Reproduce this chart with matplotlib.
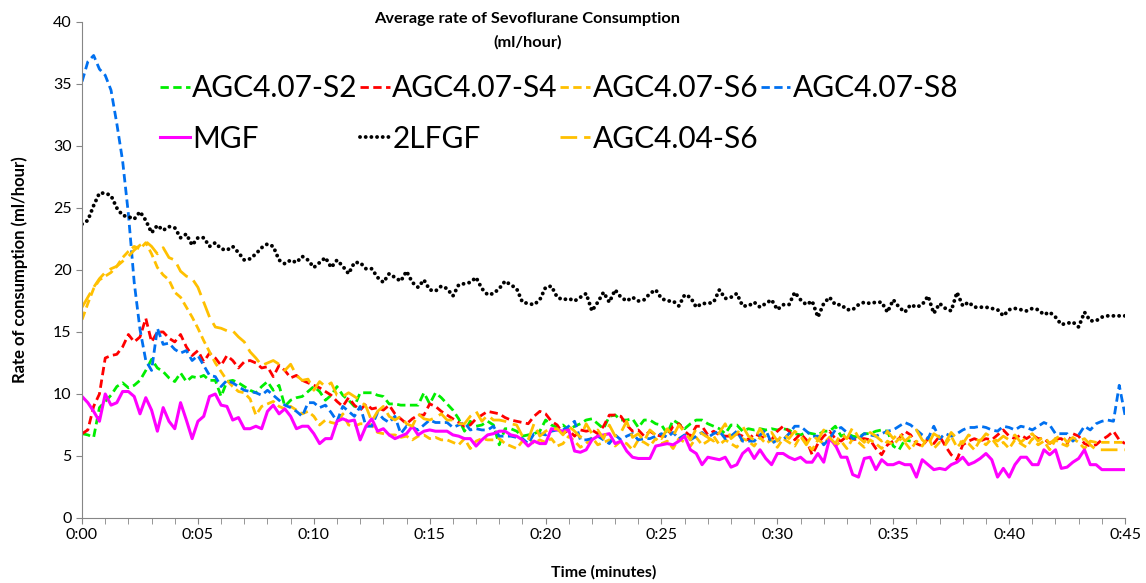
import numpy as np
import matplotlib
matplotlib.use('Agg')
import matplotlib.pyplot as plt

plt.rcParams['font.family'] = ['Lato', 'DejaVu Sans']

# readings every 15 s, 0:00 .. 0:45
minutes = np.arange(181) / 4

s2 = [6.8, 6.7, 6.5, 8.9, 9.4, 9.9, 10.6, 10.9, 10.5, 10.7, 11.1, 11.9, 12.8, 12.1, 11.8, 11.3, 11.0, 11.7, 11.0, 11.4,
      11.3, 11.5, 11.1, 11.1, 9.8, 11.0, 11.1, 10.9, 10.6, 10.3, 10.1, 10.6, 11.0, 10.3, 10.7, 9.0, 9.5, 9.7, 9.8, 10.2,
      10.6, 10.2, 9.5, 9.9, 10.6, 9.9, 9.5, 9.0, 10.1, 10.1, 10.1, 9.9, 9.8, 9.2, 9.2, 9.1, 9.1, 9.1, 9.1, 10.1,
      9.2, 10.1, 9.7, 9.2, 8.7, 8.0, 7.0, 7.8, 7.4, 7.5, 7.8, 7.5, 5.9, 7.2, 7.2, 7.0, 6.6, 6.7, 6.8, 7.0,
      7.9, 7.5, 7.3, 7.5, 7.1, 7.4, 7.6, 7.9, 8.0, 7.6, 7.2, 8.2, 8.3, 7.9, 7.9, 8.0, 7.3, 7.9, 7.9, 7.6,
      7.5, 6.8, 7.9, 7.6, 7.2, 7.6, 7.9, 7.9, 7.6, 7.4, 7.2, 6.8, 7.5, 7.5, 7.0, 7.2, 7.1, 7.2, 7.1, 7.2,
      7.1, 7.2, 7.1, 6.8, 6.7, 6.9, 6.8, 6.7, 7.0, 7.0, 7.4, 6.6, 6.8, 6.6, 6.5, 6.8, 6.8, 7.0, 7.1, 7.0,
      5.8, 5.5, 6.3, 6.2]

s4 = [6.8, 7.1, 9.0, 10.0, 12.9, 13.1, 13.2, 13.8, 14.8, 14.2, 14.6, 16.1, 14.2, 15.0, 15.0, 14.5, 14.2, 14.8, 13.8, 13.1,
      13.5, 12.6, 13.3, 12.9, 12.3, 13.1, 12.7, 12.1, 12.6, 12.7, 12.5, 12.1, 12.2, 11.4, 12.3, 11.9, 11.3, 11.5, 11.1, 10.9,
      10.7, 10.5, 10.2, 9.9, 9.4, 9.0, 9.7, 9.1, 8.7, 9.2, 8.8, 8.9, 8.7, 9.1, 8.4, 8.0, 7.6, 8.0, 8.3, 8.3,
      9.2, 9.0, 8.6, 8.3, 8.0, 7.7, 7.4, 7.5, 8.0, 8.3, 8.6, 8.5, 8.4, 8.1, 7.9, 7.8, 7.7, 7.6, 8.2, 8.6,
      8.4, 7.8, 7.5, 6.8, 7.1, 6.6, 7.1, 7.0, 7.1, 6.8, 7.4, 8.3, 8.3, 8.2, 7.5, 7.0, 7.1, 6.6, 7.0, 6.7,
      6.6, 6.6, 7.4, 7.6, 7.0, 6.6, 7.4, 7.4, 6.7, 7.0, 6.7, 6.6, 6.6, 6.8, 6.6, 6.3, 6.8, 6.6, 6.4, 6.3,
      7.0, 7.4, 7.0, 6.3, 6.8, 6.3, 5.1, 6.0, 6.6, 7.0, 6.4, 6.2, 6.6, 6.3, 6.4, 6.4, 6.3, 5.6, 5.1, 5.9,
      6.2, 6.4, 7.0, 6.7, 6.0, 5.8, 6.4, 6.0, 6.6, 5.8, 5.1, 4.7, 5.9, 6.2, 6.4, 6.2, 6.4, 6.3, 6.7, 7.1,
      6.6, 6.4, 6.7, 6.4, 6.7, 6.4, 6.4, 6.0, 6.4, 6.4, 6.0, 6.8, 6.6, 6.0, 5.8, 5.9, 6.3, 6.6, 7.0, 6.3,
      6.0]

s6 = [16.0, 17.3, 18.5, 19.2, 19.5, 19.8, 20.3, 21.0, 21.5, 21.9, 21.7, 22.2, 21.3, 20.2, 19.6, 19.2, 18.2, 17.8, 17.0, 16.2,
      15.3, 14.3, 13.4, 12.5, 11.8, 11.1, 10.6, 10.2, 10.1, 9.6, 8.3, 9.0, 9.2, 9.4, 9.0, 8.8, 9.0, 8.7, 8.4, 8.6,
      8.2, 7.5, 7.9, 7.7, 7.6, 8.4, 7.5, 7.4, 7.6, 7.6, 7.5, 6.9, 6.8, 6.7, 6.7, 6.5, 6.6, 6.3, 6.6, 6.7,
      6.4, 6.5, 6.3, 6.3, 6.1, 5.9, 6.4, 5.6, 6.2, 6.4, 6.3, 6.3, 6.4, 6.0, 5.8, 5.6, 6.2, 6.5, 6.0, 6.3,
      6.1, 6.4, 5.8, 6.0, 6.6, 6.2, 5.7, 6.0, 6.5, 5.9, 6.1, 6.3, 5.8, 6.2, 6.0, 5.5, 6.3, 6.1, 5.8, 6.4,
      6.0, 6.2, 5.6, 6.4, 6.1, 5.8, 6.5, 5.9, 6.2, 6.6, 5.9, 6.3, 6.0, 5.7, 6.4, 6.2, 5.8, 6.5, 6.0, 6.3,
      5.7, 6.4, 6.1, 5.8, 6.6, 6.0, 5.5, 6.3, 6.0, 6.5, 5.8, 6.2, 5.6, 6.4, 6.1, 5.7, 6.3, 6.0, 5.6, 6.2,
      5.9, 6.4, 6.1, 5.5, 6.2, 5.8, 6.5, 5.6, 6.1, 5.9, 6.6, 5.7, 6.2, 6.0, 5.5, 6.3, 5.9, 6.4, 5.8, 6.1,
      5.6, 6.3, 6.0, 5.7, 6.4, 5.9, 6.2, 5.5, 6.3, 6.0, 5.8, 6.4, 6.1, 5.6, 6.2, 6.1, 6.1, 6.1, 6.1, 6.1,
      6.1]

s8 = [35.2, 36.8, 37.3, 36.2, 35.7, 34.5, 31.8, 28.8, 24.5, 19.0, 15.2, 12.7, 11.9, 15.3, 14.0, 14.1, 13.6, 13.3, 13.5, 12.7,
      13.1, 12.3, 11.5, 11.4, 10.6, 11.1, 10.9, 10.6, 10.3, 10.2, 10.1, 9.9, 10.3, 9.9, 9.5, 9.1, 8.9, 8.6, 8.2, 9.3,
      9.3, 8.9, 9.1, 8.5, 7.8, 9.0, 8.6, 8.2, 9.0, 7.4, 7.4, 8.5, 8.0, 7.7, 8.2, 6.8, 7.4, 7.3, 7.1, 7.5,
      7.9, 7.7, 7.7, 7.7, 7.3, 7.5, 7.7, 7.1, 7.2, 7.1, 7.1, 7.4, 6.6, 6.6, 6.6, 6.5, 6.4, 6.0, 6.8, 6.8,
      6.7, 7.0, 7.1, 7.1, 7.4, 7.8, 6.3, 6.3, 6.4, 6.6, 6.3, 6.0, 6.7, 6.3, 6.6, 6.8, 6.3, 6.4, 6.4, 6.6,
      6.8, 6.5, 6.9, 6.4, 6.7, 6.3, 6.6, 6.9, 6.5, 6.8, 7.0, 6.4, 6.6, 7.0, 6.2, 6.2, 6.2, 6.7, 7.1, 6.0,
      6.3, 6.3, 6.8, 7.4, 7.4, 7.0, 6.6, 6.6, 5.9, 6.4, 7.1, 7.3, 6.9, 6.4, 6.4, 6.8, 6.7, 6.6, 6.8, 7.0,
      7.1, 7.4, 7.7, 7.5, 7.1, 6.7, 6.4, 7.4, 6.4, 6.8, 6.6, 6.8, 7.1, 7.3, 7.3, 7.4, 7.3, 7.1, 7.0, 7.4,
      7.3, 7.1, 7.4, 7.3, 7.1, 7.4, 7.7, 7.5, 6.8, 6.8, 6.8, 6.2, 6.7, 7.4, 7.1, 7.6, 7.8, 7.9, 7.8, 10.7,
      8.3]

mgf = [9.8, 9.3, 8.6, 7.8, 10.0, 9.1, 9.3, 10.2, 10.2, 9.8, 8.4, 9.7, 8.7, 7.0, 8.9, 7.8, 7.2, 9.3, 7.9, 6.4,
       7.8, 8.2, 9.8, 10.0, 9.1, 9.0, 7.9, 8.1, 7.2, 7.2, 7.4, 7.2, 8.6, 9.1, 8.4, 8.8, 8.2, 7.2, 7.4, 7.4,
       6.8, 6.0, 6.4, 6.4, 7.8, 8.0, 7.8, 7.9, 6.3, 7.4, 8.0, 7.0, 7.2, 6.7, 6.4, 6.6, 6.8, 7.4, 6.7, 7.0,
       7.1, 7.0, 7.0, 7.0, 6.7, 6.6, 6.4, 6.4, 5.8, 6.3, 6.7, 6.8, 7.0, 7.0, 6.7, 6.6, 6.3, 5.8, 6.2, 6.0,
       6.0, 7.2, 7.1, 7.0, 7.1, 5.4, 5.3, 5.5, 6.3, 6.6, 6.7, 6.8, 6.0, 6.2, 5.4, 4.9, 4.8, 4.8, 4.8, 5.8,
       5.9, 6.0, 5.9, 6.2, 6.6, 5.5, 5.2, 4.3, 4.9, 4.8, 4.7, 4.9, 4.1, 4.3, 5.2, 5.6, 4.8, 5.5, 4.8, 4.3,
       5.2, 5.2, 4.9, 4.7, 4.9, 4.5, 4.5, 5.2, 4.5, 6.4, 5.9, 4.9, 4.9, 3.5, 3.3, 4.8, 4.9, 3.9, 4.7, 4.3,
       4.3, 4.5, 4.3, 4.3, 3.3, 4.7, 4.3, 3.9, 4.0, 3.9, 4.3, 4.5, 4.9, 4.3, 4.5, 4.8, 5.2, 4.7, 3.3, 4.0,
       3.3, 4.3, 4.9, 4.9, 4.3, 4.3, 5.5, 5.1, 5.5, 4.0, 4.1, 4.5, 4.8, 5.5, 4.3, 4.3, 3.9, 3.9, 3.9, 3.9,
       3.9]

lfgf = [23.7, 24.0, 25.2, 26.2, 26.2, 26.0, 25.0, 24.4, 24.3, 24.1, 24.7, 24.0, 23.0, 23.6, 23.2, 23.5, 23.4, 22.6, 22.9, 22.0,
        22.6, 22.6, 21.9, 22.2, 21.7, 21.6, 21.9, 21.4, 20.8, 20.9, 21.3, 21.8, 22.1, 21.9, 20.8, 20.5, 20.8, 20.6, 21.1, 20.8,
        20.2, 20.6, 21.0, 20.2, 20.8, 20.3, 19.7, 20.6, 20.6, 20.1, 20.1, 19.4, 19.0, 19.7, 19.4, 19.1, 19.9, 19.0, 18.6, 19.2,
        18.4, 18.3, 18.7, 18.5, 17.9, 18.8, 18.9, 19.0, 19.4, 18.5, 18.0, 18.1, 18.5, 19.1, 18.8, 18.5, 17.4, 17.3, 17.2, 17.6,
        18.6, 18.7, 17.8, 17.6, 17.7, 17.5, 17.8, 18.1, 16.7, 17.4, 18.2, 17.4, 18.4, 17.8, 17.5, 17.8, 17.5, 17.6, 18.1, 18.4,
        17.7, 17.5, 17.5, 17.1, 18.0, 17.8, 17.0, 17.3, 17.3, 17.4, 18.4, 17.7, 17.8, 18.1, 17.1, 17.1, 17.4, 17.0, 17.3, 17.6,
        16.8, 17.2, 17.2, 18.2, 17.6, 17.2, 17.5, 16.2, 17.3, 17.8, 17.2, 17.2, 16.8, 16.8, 17.2, 17.4, 17.3, 17.4, 17.4, 16.6,
        17.6, 17.0, 16.6, 17.2, 17.0, 17.2, 17.9, 16.5, 17.3, 16.9, 16.7, 18.2, 17.1, 17.4, 17.0, 17.0, 17.0, 16.9, 16.8, 16.3,
        16.8, 16.9, 16.8, 16.7, 16.9, 16.8, 16.4, 16.6, 16.2, 15.6, 15.7, 15.8, 15.4, 16.6, 15.9, 15.9, 16.2, 16.3, 16.3, 16.3,
        16.3]

agc404 = [17.0, 17.8, 18.6, 19.3, 19.8, 20.1, 20.3, 20.7, 21.1, 21.6, 22.0, 22.3, 21.9, 21.3, 21.8, 21.0, 20.8, 19.9, 19.5, 19.3,
          18.6, 17.4, 16.2, 15.4, 15.3, 15.1, 15.1, 14.6, 14.2, 13.4, 12.9, 12.3, 12.5, 12.7, 12.4, 11.9, 12.4, 11.5, 11.1, 11.2,
          10.3, 11.0, 10.6, 10.9, 9.9, 9.8, 10.1, 9.8, 9.5, 9.0, 7.8, 8.6, 9.0, 8.2, 7.9, 8.2, 7.6, 7.4, 8.4, 8.0,
          7.9, 8.1, 8.4, 7.9, 7.9, 7.6, 7.6, 8.2, 8.6, 7.8, 8.3, 7.9, 7.9, 7.8, 7.6, 7.5, 6.6, 6.3, 7.6, 6.6,
          7.0, 7.2, 7.2, 6.7, 7.4, 7.0, 6.5, 7.6, 6.8, 7.1, 6.4, 7.5, 6.6, 6.9, 7.8, 6.5, 6.8, 6.2, 7.1, 6.7,
          6.4, 7.2, 6.6, 7.5, 6.9, 6.3, 7.2, 6.8, 6.5, 6.2, 6.9, 7.6, 6.4, 6.8, 7.4, 6.6, 6.3, 7.2, 6.5, 6.9,
          6.2, 6.8, 6.4, 7.0, 6.6, 5.9, 6.7, 6.3, 7.1, 6.5, 6.0, 6.8, 6.4, 7.3, 6.5, 6.1, 6.9, 6.6, 6.2, 7.0,
          6.4, 6.9, 6.2, 6.6, 7.1, 6.3, 5.9, 6.8, 6.5, 6.1, 6.9, 6.4, 6.0, 6.7, 6.4, 6.2, 6.8, 6.5, 6.2, 6.6,
          6.3, 6.7, 6.1, 6.5, 6.8, 6.2, 6.6, 6.0, 6.4, 6.7, 6.1, 6.5, 6.2, 6.4, 5.9, 5.5, 5.5, 5.5, 5.5, 5.5,
          5.5]

time_labels = ['0:%02d' % m for m in range(0, 46, 5)]

fig = plt.figure(figsize=(11.46, 5.83), dpi=100)
ax = fig.add_axes([0.0716, 0.1115, 0.9101, 0.8508])

gray = '#868686'
dash = (0, (3, 1.6))

l_s2, = ax.plot(minutes[:len(s2)], s2, color='#00ee00', lw=2, linestyle=dash, label='AGC4.07-S2')
l_s4, = ax.plot(minutes, s4, color='#ff0000', lw=2, linestyle=dash, label='AGC4.07-S4')
l_s6, = ax.plot(minutes, s6, color='#ffc000', lw=2, linestyle=dash, label='AGC4.07-S6')
l_s8, = ax.plot(minutes, s8, color='#0070f0', lw=2, linestyle=dash, label='AGC4.07-S8')
l_mgf, = ax.plot(minutes, mgf, color='#ff00ff', lw=2.2, label='MGF')
l_lf, = ax.plot(minutes, lfgf, color='black', lw=2.8, linestyle=(0, (0.01, 1.45)),
                dash_capstyle='round', label='2LFGF')
l_404, = ax.plot(minutes, agc404, color='#ffc000', lw=2, linestyle=(0, (6, 2.5)), label='AGC4.04-S6')

ax.set_xlim(0, 45)
ax.set_ylim(0, 40)
ax.set_xticks(range(0, 46, 5))
ax.set_xticklabels(time_labels)
ax.set_xticks(range(0, 46), minor=True)
ax.set_yticks(range(0, 41, 5))

for s in ['top', 'right']:
    ax.spines[s].set_visible(False)
for s in ['left', 'bottom']:
    ax.spines[s].set_color(gray)
ax.tick_params(axis='both', which='both', direction='out', length=4, color=gray, labelsize=11.5)
ax.tick_params(axis='x', which='minor', length=4)

ax.set_xlabel('Time (minutes)', fontsize=11.5, fontweight='bold', labelpad=16)
ax.set_ylabel('Rate of consumption (ml/hour)', fontsize=12, fontweight='bold', labelpad=18)

fig.text(0.46, 0.979, 'Average rate of Sevoflurane Consumption\n(ml/hour)', ha='center', va='top',
         fontsize=11.8, fontweight='bold', linespacing=1.75)

handles = [l_s2, l_mgf, l_s4, l_lf, l_s6, l_404, l_s8]
fig.legend(handles=handles, labels=[h.get_label() for h in handles], ncol=4,
           loc='upper left', bbox_to_anchor=(0.1396, 0.873), frameon=False, fontsize=21.5,
           handlelength=1.0, handletextpad=0.08, columnspacing=0.08, labelspacing=0.76,
           borderpad=0, borderaxespad=0)

fig.savefig('out.png', dpi=100)
